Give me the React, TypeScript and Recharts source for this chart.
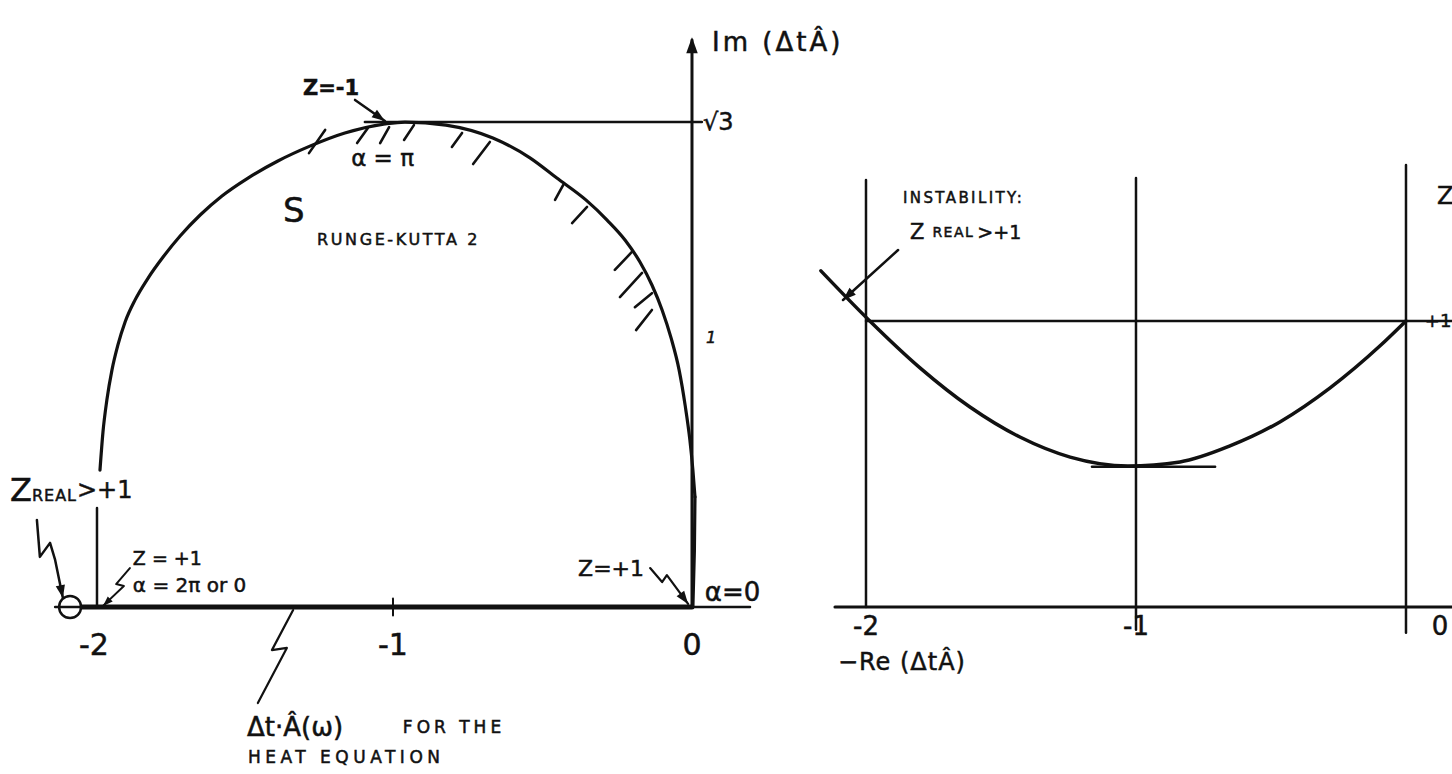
import type { ReactNode } from "react";
import { LineChart, Line, XAxis, YAxis, ReferenceLine, ReferenceDot } from "recharts";

type Pt = [number, number];
type Seg = [number, number, number, number];

const INK = "#111";
const FONT = "'DejaVu Sans', sans-serif";

// ---------- left panel: RK2 stability boundary in the Δt·Â plane ----------
const rk2Boundary: Pt[] = [
  [-1.98, 0.489], [-1.97, 0.625], [-1.957, 0.739], [-1.94, 0.846], [-1.92, 0.936],
  [-1.896, 1.018], [-1.863, 1.096], [-1.819, 1.175], [-1.769, 1.25], [-1.712, 1.325],
  [-1.645, 1.4], [-1.572, 1.468], [-1.485, 1.532], [-1.385, 1.593], [-1.278, 1.646],
  [-1.161, 1.693], [-1.027, 1.725], [-0.96, 1.732], [-0.823, 1.721], [-0.666, 1.675],
  [-0.542, 1.604], [-0.452, 1.532], [-0.355, 1.454], [-0.284, 1.382], [-0.224, 1.311],
  [-0.174, 1.232], [-0.134, 1.15], [-0.1, 1.061], [-0.07, 0.961], [-0.043, 0.846],
  [-0.023, 0.721], [-0.007, 0.596], [0.003, 0.489], [0.01, 0.393],
];
// last stretch runs down alongside the imaginary axis into the origin
const rk2Tail: Pt[] = [[0.01, 0.393], [0.008, 0.2], [0.003, 0]];

// short hatch strokes on the stable side of the boundary
const rk2Hatches: Seg[] = [
  [-1.281, 1.621, -1.227, 1.704], [-1.12, 1.657, -1.084, 1.711],
  [-1.043, 1.657, -1.013, 1.714], [-0.963, 1.668, -0.93, 1.721],
  [-0.803, 1.643, -0.769, 1.693], [-0.732, 1.582, -0.676, 1.661],
  [-0.458, 1.454, -0.431, 1.507], [-0.401, 1.371, -0.351, 1.429],
  [-0.258, 1.204, -0.201, 1.268], [-0.241, 1.107, -0.167, 1.193],
  [-0.191, 1.071, -0.134, 1.121], [-0.187, 0.989, -0.134, 1.061],
];

const reTicks = [-2, -1, 0];
const reTickLabels = ["-2", "-1", "0"];
const imPeak = 1.732; // √3, reached at Z = -1

const pointerZMinus1: Pt[] = [[-1.127, 1.811], [-1.027, 1.736]];
const pointerZRealLeft: Pt[] = [[-2.191, 0.311], [-2.181, 0.179], [-2.147, 0.229], [-2.13, 0.168], [-2.104, 0.032]];
const pointerAlpha2Pi: Pt[] = [[-1.88, 0.139], [-1.926, 0.082], [-1.9, 0.075], [-1.97, 0.004]];
const pointerHeat: Pt[] = [[-1.334, -0.011], [-1.405, -0.154], [-1.355, -0.146], [-1.452, -0.343]];
const pointerAlpha0: Pt[] = [[-0.14, 0.139], [-0.1, 0.089], [-0.084, 0.114], [-0.013, 0.011]];

// ---------- right panel: Z on the real axis ----------
const zReal: Pt[] = [
  [-2.167, 1.175], [-1.985, 0.999], [-1.8, 0.836], [-1.615, 0.699], [-1.43, 0.594],
  [-1.244, 0.524], [-1.03, 0.493], [-0.837, 0.507], [-0.652, 0.563], [-0.467, 0.647],
  [-0.281, 0.766], [-0.096, 0.913], [0, 1],
];
const zTicks = [-2, -1, 0];
const zTickLabels = ["-2", "-1", "0"];
const zMinTangent: Pt[] = [[-1.163, 0.49], [-0.707, 0.49]];
const pointerInstability: Pt[] = [[-1.881, 1.248], [-2.085, 1.073]];

// chart frames (plot area fills each chart)
const LEFT_W = 900;
const LEFT_X: [number, number] = [-2.3144, 0.6957];
const LEFT_Y: [number, number] = [-0.5964, 2.1679];
const RIGHT_W = 672;
const RIGHT_X: [number, number] = [-2.3185, 0.1704];
const RIGHT_Y: [number, number] = [-0.584, 2.122];
const H = 774;

const rows = (pts: Pt[]) => pts.map(([x, y]) => ({ x, y }));

function seg(key: string, a: Pt, b: Pt, w = 2.5) {
  return (
    <ReferenceLine
      key={key}
      segment={[{ x: a[0], y: a[1] }, { x: b[0], y: b[1] }]}
      stroke={INK}
      strokeWidth={w}
      strokeLinecap="round"
      ifOverflow="visible"
    />
  );
}

function trace(key: string, pts: Pt[], w = 2.5, type: any = "linear") {
  return (
    <Line
      key={key}
      data={rows(pts)}
      dataKey="y"
      type={type}
      stroke={INK}
      strokeWidth={w}
      strokeLinejoin="round"
      strokeLinecap="round"
      dot={false}
      activeDot={false}
      isAnimationActive={false}
    />
  );
}

function head(key: string, tail: Pt, tip: Pt, sx: number, sy: number, size = 13) {
  const ang = (Math.atan2(-(tip[1] - tail[1]) * sy, (tip[0] - tail[0]) * sx) * 180) / Math.PI;
  return (
    <ReferenceDot
      key={key}
      x={tip[0]}
      y={tip[1]}
      r={0}
      ifOverflow="visible"
      shape={(p: any) => (
        <polygon
          points={`0,0 ${-size},${-size * 0.36} ${-size},${size * 0.36}`}
          fill={INK}
          transform={`translate(${p.cx},${p.cy}) rotate(${ang})`}
        />
      )}
    />
  );
}

function note(key: string, x: number, y: number, content: ReactNode, size = 18, anchor = "start", extra: any = {}) {
  return (
    <ReferenceDot
      key={key}
      x={x}
      y={y}
      r={0}
      ifOverflow="visible"
      shape={(p: any) => (
        <text
          x={p.cx}
          y={p.cy}
          fontFamily={FONT}
          fontSize={size}
          fill={INK}
          stroke={INK}
          strokeWidth={0.5}
          textAnchor={anchor}
          dominantBaseline="central"
          {...extra}
        >
          {content}
        </text>
      )}
    />
  );
}

const LSX = LEFT_W / (LEFT_X[1] - LEFT_X[0]);
const LSY = H / (LEFT_Y[1] - LEFT_Y[0]);
const RSX = RIGHT_W / (RIGHT_X[1] - RIGHT_X[0]);
const RSY = H / (RIGHT_Y[1] - RIGHT_Y[0]);

const last = (pts: Pt[]) => pts[pts.length - 1];
const prev = (pts: Pt[]) => pts[pts.length - 2];

function StabilityRegion() {
  return (
    <LineChart width={LEFT_W} height={H} margin={{ top: 0, right: 0, bottom: 0, left: 0 }}>
      <XAxis dataKey="x" type="number" domain={LEFT_X} allowDataOverflow hide />
      <YAxis type="number" domain={LEFT_Y} allowDataOverflow hide width={0} />

      {/* real axis, with the heat-equation eigenvalues drawn heavy on [-2, 0] */}
      {seg("re-axis", [-2.13, 0], [0.194, 0], 2.5)}
      {seg("heat-band", [-2.04, 0], [0, 0], 5)}
      {seg("tick-m1", [-1, -0.03], [-1, 0.03], 2)}

      {/* imaginary axis */}
      {seg("im-axis", [0, 0], [0, 2.025], 3)}
      {head("im-arrow", [0, 1.9], [0, 2.035], LSX, LSY, 16)}
      {seg("im-peak", [-1.094, imPeak], [0.033, imPeak], 2.5)}

      {/* Z_real > +1 marker at -2 */}
      {seg("z-real-mark", [-1.99, 0], [-1.99, 0.354], 2.5)}
      <ReferenceDot x={-2.08} y={0} r={11} fill="none" stroke={INK} strokeWidth={2.5} ifOverflow="visible" />

      {trace("boundary", rk2Boundary, 3.2, "monotone")}
      {trace("boundary-tail", rk2Tail, 3.2)}
      {rk2Hatches.map((h, i) => seg(`hatch-${i}`, [h[0], h[1]], [h[2], h[3]], 2.6))}

      {trace("p-zm1", pointerZMinus1, 2.5)}
      {head("h-zm1", prev(pointerZMinus1), last(pointerZMinus1), LSX, LSY)}
      {trace("p-zreal", pointerZRealLeft, 2.5)}
      {head("h-zreal", prev(pointerZRealLeft), last(pointerZRealLeft), LSX, LSY)}
      {trace("p-2pi", pointerAlpha2Pi, 2)}
      {head("h-2pi", prev(pointerAlpha2Pi), last(pointerAlpha2Pi), LSX, LSY, 10)}
      {trace("p-heat", pointerHeat, 2.2)}
      {trace("p-a0", pointerAlpha0, 2.2)}
      {head("h-a0", prev(pointerAlpha0), last(pointerAlpha0), LSX, LSY)}

      {reTicks.map((t, i) => note(`re-${i}`, t, -0.135, reTickLabels[i], 30, "middle"))}

      {note("im-title", 0.067, 2.018, "Im (ΔtÂ)", 26, "start", { letterSpacing: 3 })}
      {note("sqrt3", 0.037, imPeak, "√3", 24)}
      {note("im-one", 0.047, 0.964, "1", 16, "start", { fontStyle: "italic" })}
      {note("z-m1", -1.301, 1.854, "Z=-1", 21, "start", { fontWeight: "bold" })}
      {note("alpha-pi", -1.14, 1.604, "α = π", 23)}
      {note("s", -1.368, 1.418, "S", 34)}
      {note("rk2", -1.254, 1.311, "RUNGE-KUTTA 2", 16, "start", { letterSpacing: 2.6 })}
      {note(
        "z-real",
        -2.281,
        0.418,
        <>
          <tspan fontSize={32}>Z</tspan>
          <tspan fontSize={16} dy={5} letterSpacing={1}>REAL</tspan>
          <tspan fontSize={24} dy={-5}>&gt;+1</tspan>
        </>,
        24,
      )}
      {note("z-p1", -1.87, 0.175, "Z = +1", 19)}
      {note("alpha-2pi", -1.87, 0.079, "α = 2π or 0", 20)}
      {note("heat-a", -1.488, -0.429, "Δt·Â(ω)", 26)}
      {note("heat-b", -0.967, -0.429, "FOR THE", 17, "start", { letterSpacing: 4 })}
      {note("heat-c", -1.485, -0.536, "HEAT  EQUATION", 17, "start", { letterSpacing: 4.5 })}
      {note("z-p1-origin", -0.381, 0.139, "Z=+1", 22)}
      {note("alpha-0", 0.043, 0.054, "α=0", 26)}
    </LineChart>
  );
}

function RealAxisAmplification() {
  return (
    <LineChart width={RIGHT_W} height={H} margin={{ top: 0, right: 0, bottom: 0, left: 0 }}>
      <XAxis dataKey="x" type="number" domain={RIGHT_X} allowDataOverflow hide />
      <YAxis type="number" domain={RIGHT_Y} allowDataOverflow hide width={0} />

      {seg("axis", [-2.115, 0], [0.17, 0], 3)}
      {seg("v-m2", [-2, 0], [-2, 1.493], 2.5)}
      {seg("v-m1", [-1, -0.08], [-1, 1.5], 2.5)}
      {seg("v-0", [0, -0.09], [0, 1.545], 2.5)}
      {seg("one", [-2, 1], [0.17, 1], 2.5)}

      {trace("z-real", zReal, 3.5, "monotone")}
      {trace("z-min", zMinTangent, 2.5)}

      {trace("p-inst", pointerInstability, 2.5)}
      {head("h-inst", prev(pointerInstability), last(pointerInstability), RSX, RSY)}

      {zTicks.map((t, i) =>
        note(`z-${i}`, t === 0 ? 0.126 : t, -0.066, zTickLabels[i], 26, "middle"),
      )}
      {note("x-title", -2.104, -0.192, "−Re (ΔtÂ)", 24, "start", { letterSpacing: 1 })}
      {note("z-title", 0.115, 1.437, "Z", 24)}
      {note("plus-one", 0.168, 1, "+1", 18, "end")}
      {note("inst", -1.863, 1.43, "INSTABILITY:", 15, "start", { letterSpacing: 2.4 })}
      {note(
        "inst-b",
        -1.837,
        1.311,
        <>
          <tspan fontSize={21}>Z</tspan>
          <tspan fontSize={14} dx={8} letterSpacing={1.5}>REAL</tspan>
          <tspan fontSize={19} dx={3}>&gt;+1</tspan>
        </>,
        19,
      )}
    </LineChart>
  );
}

export default function App() {
  return (
    <div style={{ position: "absolute", left: 0, top: 0, width: 1452, height: H, background: "#fff", overflow: "hidden" }}>
      <div style={{ position: "absolute", left: 0, top: 0 }}>
        <StabilityRegion />
      </div>
      <div style={{ position: "absolute", left: 780, top: 0 }}>
        <RealAxisAmplification />
      </div>
    </div>
  );
}
